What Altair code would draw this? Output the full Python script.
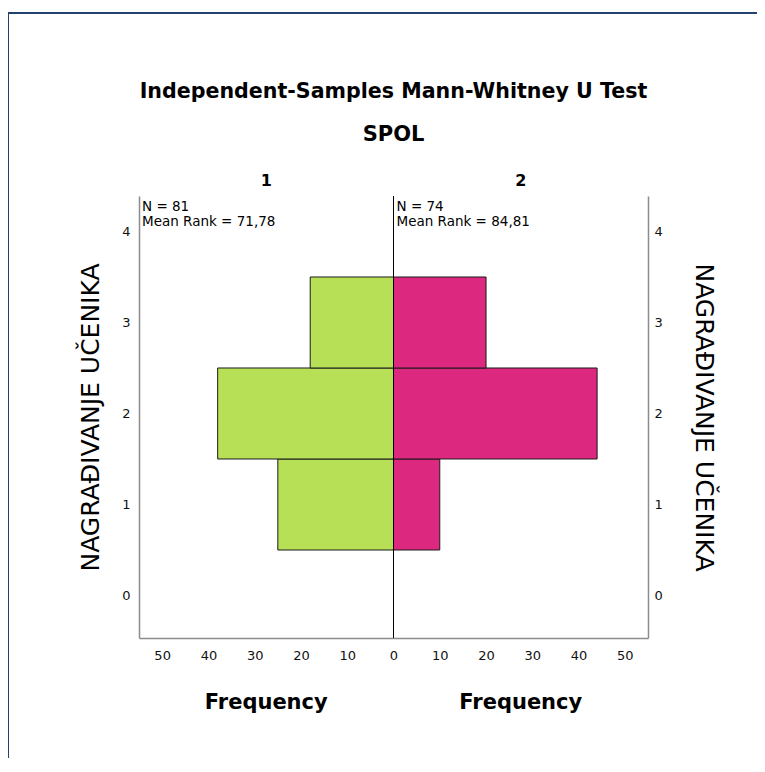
import altair as alt
import pandas as pd

# ---- data ----
RANK_VALUES = [1, 2, 3]
GROUP_NAMES = ["1", "2"]
FREQ_GROUP1 = [25, 38, 18]
FREQ_GROUP2 = [10, 44, 20]
N_LABELS = ["N = 81", "N = 74"]
MEAN_RANK_LABELS = ["Mean Rank = 71,78", "Mean Rank = 84,81"]
X_TICKS = [-50, -40, -30, -20, -10, 0, 10, 20, 30, 40, 50]
Y_TICKS = [0, 1, 2, 3, 4]
TITLE = "Independent-Samples Mann-Whitney U Test"
SUBTITLE = "SPOL"
Y_TITLE = "NAGRAĐIVANJE UČENIKA"
X_TITLE = "Frequency"

FONT = "DejaVu Sans"
W, H = 509, 442
GREEN = "#B8E057"
PINK = "#DC287F"

rows = []
for v, f in zip(RANK_VALUES, FREQ_GROUP1):
    rows.append({"group": GROUP_NAMES[0], "lo": -f, "hi": 0, "y0": v - 0.5, "y1": v + 0.5})
for v, f in zip(RANK_VALUES, FREQ_GROUP2):
    rows.append({"group": GROUP_NAMES[1], "lo": 0, "hi": f, "y0": v - 0.5, "y1": v + 0.5})
bars_df = pd.DataFrame(rows)

xscale = alt.Scale(domain=[-55, 55], nice=False, zero=False)
yscale = alt.Scale(domain=[-0.467, 4.39], nice=False, zero=False)

x_axis = alt.Axis(values=X_TICKS, labelExpr="'' + abs(datum.value)", grid=False, ticks=False,
                  domainColor="#8c8c8c", domainWidth=1.5, title=None, labelPadding=11,
                  labelFontSize=13, labelColor="#111111", labelFont=FONT, labelFlush=False,
                  orient="bottom")

y_axis_left = alt.Axis(values=Y_TICKS, grid=False, ticks=False, domainColor="#8c8c8c", domainWidth=1.5,
                       labelPadding=9, labelFontSize=13, labelColor="#111111", labelFont=FONT,
                       title=Y_TITLE, titleFont=FONT, titleFontSize=25, titleFontWeight="normal",
                       titleColor="#000000", titleAngle=270, titleX=-49, titleY=H / 2,
                       titleAlign="center", titleBaseline="middle", orient="left")

y_axis_right = alt.Axis(values=Y_TICKS, grid=False, ticks=False, domainColor="#8c8c8c", domainWidth=1.5,
                        labelPadding=6, labelFontSize=13, labelColor="#111111", labelFont=FONT,
                        title=Y_TITLE, titleFont=FONT, titleFontSize=25, titleFontWeight="normal",
                        titleColor="#000000", titleAngle=90, titleX=55, titleY=H / 2,
                        titleAlign="center", titleBaseline="middle", orient="right")

one = pd.DataFrame({"k": [0]})

frame = alt.Chart(one).mark_rect(fill="transparent", stroke="#24406E", strokeWidth=2).encode(
    x=alt.value(-131), x2=alt.value(900), y=alt.value(-183), y2=alt.value(900)
)

bars = alt.Chart(bars_df).mark_rect(stroke="#1a1a1a", strokeWidth=1).encode(
    x=alt.X("lo:Q", scale=xscale, axis=x_axis),
    x2="hi:Q",
    y=alt.Y("y0:Q", scale=yscale, axis=y_axis_left),
    y2="y1:Q",
    color=alt.Color("group:N", scale=alt.Scale(domain=GROUP_NAMES, range=[GREEN, PINK]), legend=None),
)

right_axis_layer = alt.Chart(bars_df).mark_rect(opacity=0).encode(
    x=alt.X("lo:Q", scale=xscale),
    x2="hi:Q",
    y=alt.Y("y0:Q", scale=yscale, axis=y_axis_right),
    y2="y1:Q",
)

center = alt.Chart(pd.DataFrame({"x": [0]})).mark_rule(color="#000000", strokeWidth=1).encode(
    x=alt.X("x:Q", scale=xscale)
)

hdr_df = pd.DataFrame({"label": GROUP_NAMES, "xc": [-27.5, 27.5]})
headers = alt.Chart(hdr_df).mark_text(font=FONT, fontSize=16, fontWeight="bold", baseline="alphabetic",
                                      align="center", color="#000000").encode(
    x=alt.X("xc:Q", scale=xscale), y=alt.value(-10), text="label:N"
)

ann_df = pd.DataFrame({"n": N_LABELS, "mr": MEAN_RANK_LABELS, "xl": [-55, 0]})
n_text = alt.Chart(ann_df).mark_text(font=FONT, fontSize=13.5, align="left", baseline="alphabetic",
                                     dx=3, color="#000000").encode(
    x=alt.X("xl:Q", scale=xscale), y=alt.value(15), text="n:N"
)
mr_text = alt.Chart(ann_df).mark_text(font=FONT, fontSize=13.5, align="left", baseline="alphabetic",
                                      dx=3, color="#000000").encode(
    x=alt.X("xl:Q", scale=xscale), y=alt.value(29.5), text="mr:N"
)

freq_df = pd.DataFrame({"t": [X_TITLE, X_TITLE], "xc": [-27.5, 27.5]})
freq_titles = alt.Chart(freq_df).mark_text(font=FONT, fontSize=21, fontWeight="bold", align="center",
                                           baseline="alphabetic", color="#000000").encode(
    x=alt.X("xc:Q", scale=xscale), y=alt.value(513), text="t:N"
)

title_text = alt.Chart(pd.DataFrame({"t": [TITLE]})).mark_text(
    font=FONT, fontSize=20.6, fontWeight="bold", align="center", baseline="alphabetic", color="#000000"
).encode(x=alt.value(W / 2), y=alt.value(-98), text="t:N")

sub_text = alt.Chart(pd.DataFrame({"t": [SUBTITLE]})).mark_text(
    font=FONT, fontSize=21, fontWeight="bold", align="center", baseline="alphabetic", color="#000000"
).encode(x=alt.value(W / 2), y=alt.value(-55), text="t:N")

chart = alt.layer(
    frame, bars, right_axis_layer, center, headers, n_text, mr_text, freq_titles, title_text, sub_text
).resolve_axis(y="independent").properties(
    width=W, height=H,
    autosize=alt.AutoSizeParams(type="none"),
    padding={"left": 131, "top": 188, "right": 109, "bottom": 120},
).configure(font=FONT, background="white", view=alt.ViewConfig(stroke="transparent", strokeWidth=0))

chart.save("out.html", embed_options={"renderer": "svg", "actions": False})
